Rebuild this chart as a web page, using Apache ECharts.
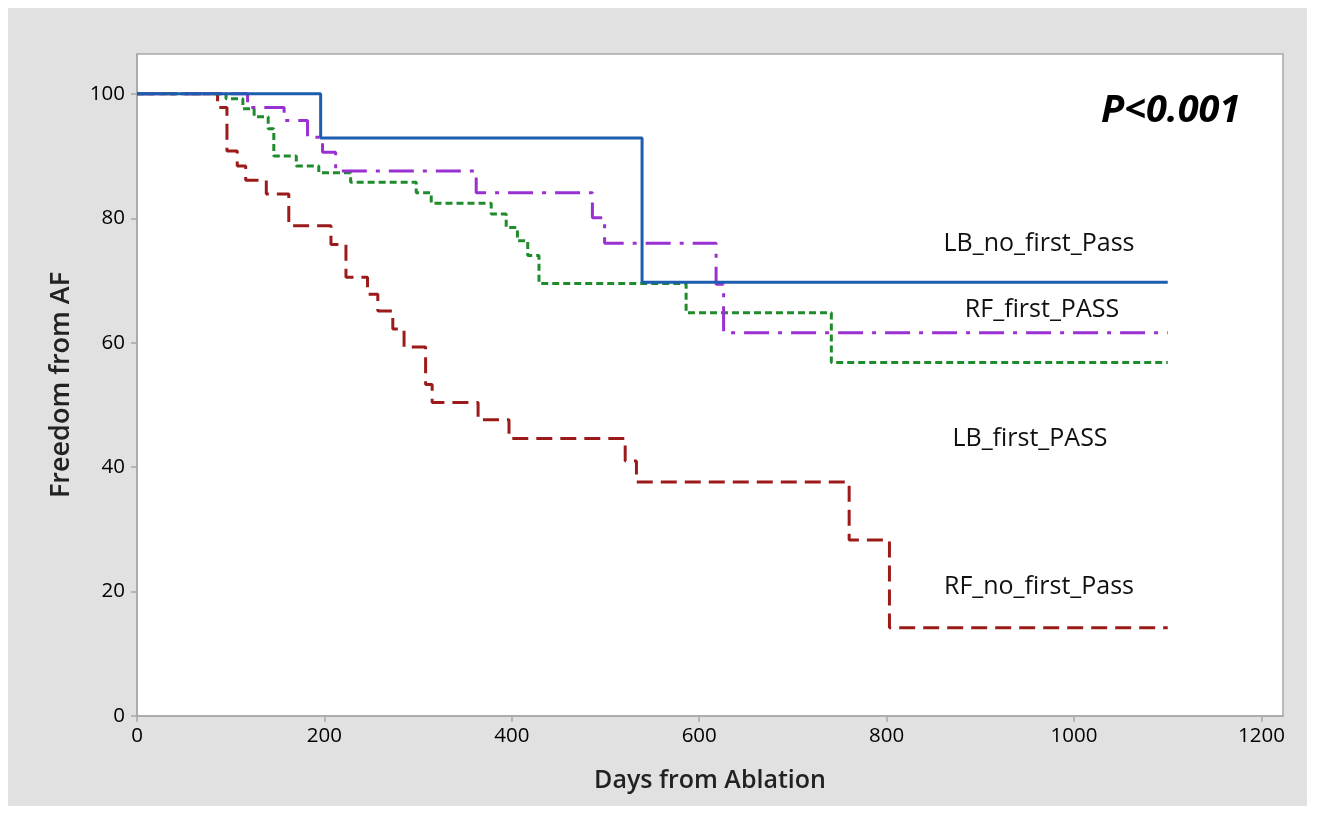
<!DOCTYPE html>
<html><head><meta charset="utf-8">
<script src="https://cdn.jsdelivr.net/npm/echarts@6/dist/echarts.min.js"></script>
<style>
html,body{margin:0;padding:0;background:#fff;}
#bg{position:absolute;left:8px;top:8px;width:1299px;height:798px;background:#e1e1e1;}
#chart{position:absolute;left:0;top:0;width:1317px;height:813px;}
</style></head><body>
<div id="bg"></div><div id="chart"></div>
<script>
// Tick labels
const xTicks = [0, 200, 400, 600, 800, 1000, 1200];
const yTicks = [0, 20, 40, 60, 80, 100];

// LB_no_first_Pass (blue, solid)
const lbNoFirstDays = [0, 196, 539, 1100];
const lbNoFirstVals = [100, 92.9, 69.7, 69.7];

// RF_first_PASS (purple, dash-dot)
const rfFirstDays = [0, 118, 157, 182, 198, 212, 362, 486, 499, 618, 626, 1100];
const rfFirstVals = [100, 97.8, 95.7, 93.0, 90.6, 87.6, 84.1, 80.1, 76.0, 69.4, 61.6, 61.6];

// LB_first_PASS (green, dotted)
const lbFirstDays = [0, 95, 113, 125, 140, 146, 170, 194, 228, 298, 314, 378, 394, 406, 417, 429, 586, 741, 1100];
const lbFirstVals = [100, 99.2, 97.6, 96.3, 94.4, 90.0, 88.4, 87.3, 85.8, 84.1, 82.4, 80.7, 78.5, 76.4, 74.0, 69.5, 64.8, 56.8, 56.8];

// RF_no_first_Pass (red, dashed)
const rfNoFirstDays = [0, 86, 96, 107, 116, 138, 162, 207, 223, 246, 257, 273, 285, 308, 315, 364, 397, 521, 533, 760, 803, 1100];
const rfNoFirstVals = [100, 97.8, 90.8, 88.4, 86.1, 83.9, 78.8, 75.8, 70.5, 67.8, 65.1, 62.2, 59.3, 53.3, 50.4, 47.6, 44.6, 41.0, 37.6, 28.3, 14.2, 14.2];

const seriesNames = ['LB_no_first_Pass', 'RF_first_PASS', 'LB_first_PASS', 'RF_no_first_Pass'];

function pairs(d, v) { return d.map((x, i) => [x, v[i]]); }

const FONT = '"Open Sans", "Noto Sans", sans-serif';
const axisGray = '#a8a8a8';

const chart = echarts.init(document.getElementById('chart'), null, { renderer: 'canvas' });
chart.setOption({
  backgroundColor: 'transparent',
  animation: false,
  textStyle: { fontFamily: FONT },
  grid: { left: 137, top: 54, right: 34, bottom: 97, show: true, backgroundColor: '#fff', borderColor: axisGray, borderWidth: 1.5 },
  xAxis: {
    type: 'value', min: 0, max: 1223,
    name: 'Days from Ablation', nameLocation: 'middle', nameGap: 52,
    nameTextStyle: { fontFamily: FONT, fontSize: 25, fontWeight: 600, color: '#222' },
    axisLine: { show: true, lineStyle: { color: axisGray, width: 1.5 } },
    axisTick: { show: true, inside: false, length: 6, lineStyle: { color: axisGray, width: 1.5 }, customValues: xTicks },
    axisLabel: { fontFamily: FONT, fontSize: 20.5, color: '#000', margin: 10, customValues: xTicks, formatter: v => String(v) },
    splitLine: { show: false }
  },
  yAxis: {
    type: 'value', min: 0, max: 106.4,
    name: 'Freedom from AF', nameLocation: 'middle', nameGap: 62, nameRotate: 90,
    nameTextStyle: { fontFamily: FONT, fontSize: 27, fontWeight: 600, color: '#222' },
    axisLine: { show: true, lineStyle: { color: axisGray, width: 1.5 } },
    axisTick: { show: true, inside: false, length: 6, lineStyle: { color: axisGray, width: 1.5 }, customValues: yTicks },
    axisLabel: { fontFamily: FONT, fontSize: 20.5, color: '#000', margin: 12, customValues: yTicks, formatter: v => String(v) },
    splitLine: { show: false }
  },
  series: [
    { name: seriesNames[3], type: 'line', step: 'end', showSymbol: false, data: pairs(rfNoFirstDays, rfNoFirstVals),
      lineStyle: { color: '#9c1a1a', width: 3, type: [16, 8] }, z: 2 },
    { name: seriesNames[2], type: 'line', step: 'end', showSymbol: false, data: pairs(lbFirstDays, lbFirstVals),
      lineStyle: { color: '#1f8c2c', width: 3, type: [7, 4] }, z: 3 },
    { name: seriesNames[1], type: 'line', step: 'end', showSymbol: false, data: pairs(rfFirstDays, rfFirstVals),
      lineStyle: { color: '#9b30d2', width: 3, type: [25, 9, 4, 9] }, z: 4 },
    { name: seriesNames[0], type: 'line', step: 'end', showSymbol: false, data: pairs(lbNoFirstDays, lbNoFirstVals),
      lineStyle: { color: '#1c5db0', width: 3, type: 'solid' }, z: 5 }
  ],
  graphic: [
    { type: 'text', x: 1101, y: 111, style: { text: 'P<0.001', font: 'italic bold 38px ' + FONT, fill: '#000', textAlign: 'left', textVerticalAlign: 'middle' } },
    { type: 'text', x: 1039, y: 244, style: { text: seriesNames[0], font: '25px ' + FONT, fill: '#111', textAlign: 'center', textVerticalAlign: 'middle' } },
    { type: 'text', x: 1042, y: 310, style: { text: seriesNames[1], font: '25px ' + FONT, fill: '#111', textAlign: 'center', textVerticalAlign: 'middle' } },
    { type: 'text', x: 1030, y: 439, style: { text: seriesNames[2], font: '25px ' + FONT, fill: '#111', textAlign: 'center', textVerticalAlign: 'middle' } },
    { type: 'text', x: 1039, y: 587, style: { text: seriesNames[3], font: '25px ' + FONT, fill: '#111', textAlign: 'center', textVerticalAlign: 'middle' } }
  ]
});
</script>
</body></html>
